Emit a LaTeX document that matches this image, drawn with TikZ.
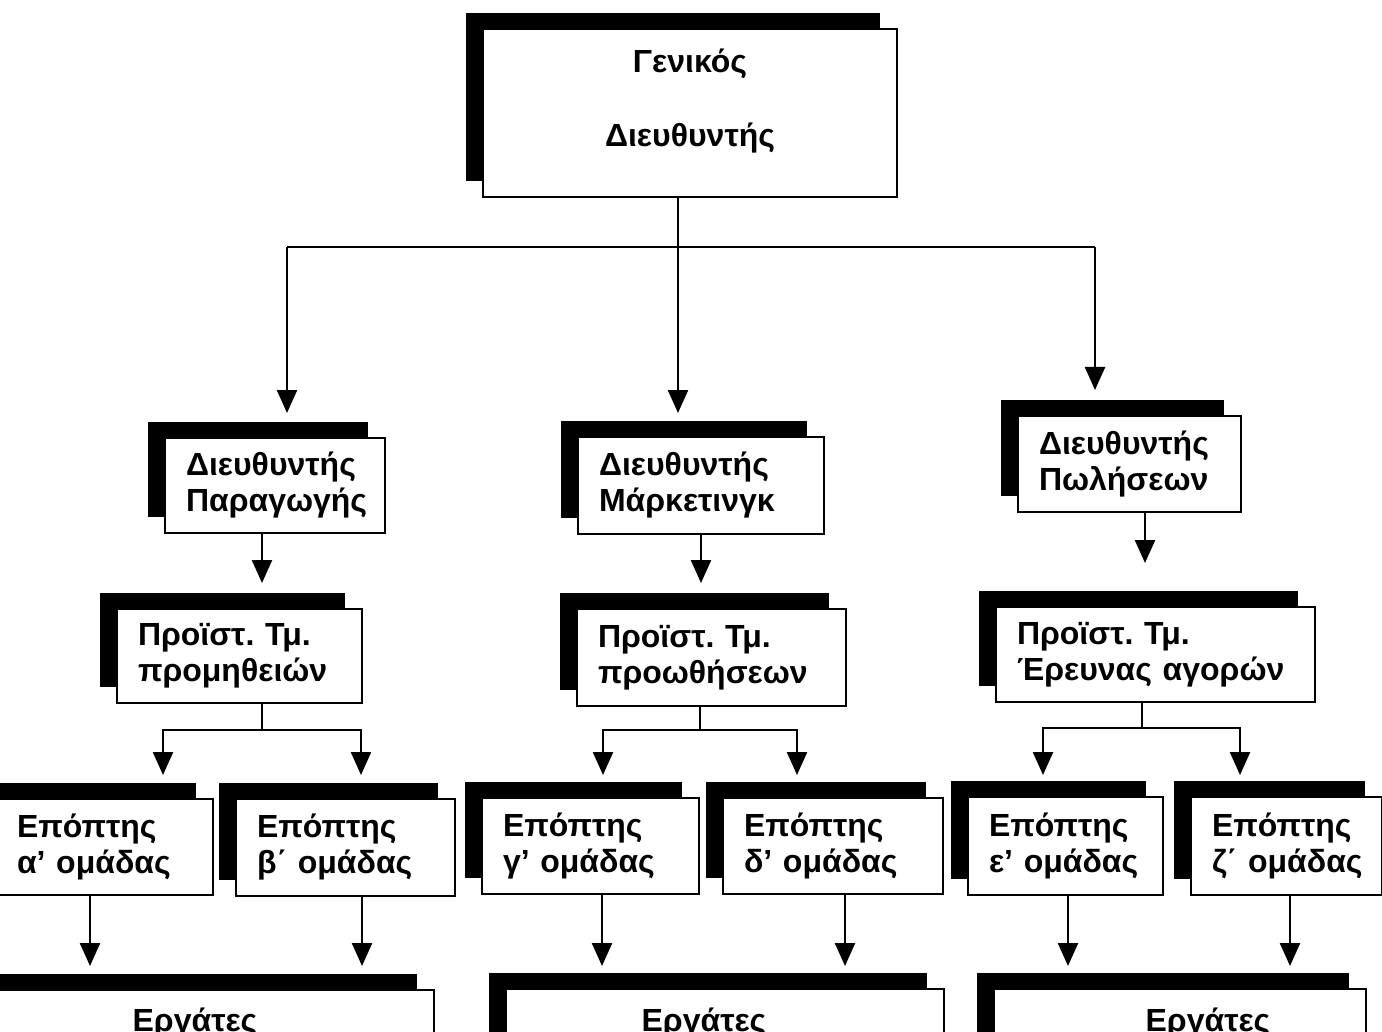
\documentclass[tikz,border=0pt]{standalone}
\usepackage{fontspec}
\setmainfont{Liberation Sans}
\usetikzlibrary{arrows.meta,shadows}

\begin{document}
\begin{tikzpicture}[x=1pt,y=-1pt,
    card/.style={draw,line width=2.4pt,fill=white,
      general shadow={fill=black,shadow xshift=-17pt,shadow yshift=16pt},
      inner xsep=21pt,inner ysep=0pt,align=left,
      font=\bfseries\fontsize{32}{36}\selectfont},
    word/.style={inner sep=0pt,font=\bfseries\fontsize{32}{36}\selectfont},
    arr/.style={line width=2.4pt,-{Triangle[width=20pt,length=23pt]}},
    ln/.style={line width=2.4pt}]
    \clip (0,0) rectangle (1382,1032);
    \fill[white] (0,0) rectangle (1382,1032);

    \node[card,align=center,minimum width=414pt,minimum height=168pt,text depth=31pt] (gm) at (690,113) {Γενικός\\[38pt]Διευθυντής};

    \node[card,text width=178pt,minimum height=95pt] (dp) at (275,485.5) {Διευθυντής\\Παραγωγής};
    \node[card,text width=204pt,minimum height=97pt] (dm) at (701,485.5) {Διευθυντής\\Μάρκετινγκ};
    \node[card,text width=181pt,minimum height=96pt] (ds) at (1129.5,464) {Διευθυντής\\Πωλήσεων};

    \node[card,text width=203pt,minimum height=94pt] (pp) at (239.5,656) {Προϊστ.~Τμ.\\προμηθειών};
    \node[card,text width=227pt,minimum height=97pt] (pm) at (711.5,657.5) {Προϊστ.~Τμ.\\προωθήσεων};
    \node[card,text width=277pt,minimum height=95pt] (ps) at (1155.5,654.5) {Προϊστ.~Τμ.\\Έρευνας~αγορών};

    \node[card,text width=175pt,minimum height=96pt] (ea) at (104.5,847) {Επόπτης\\α’~ομάδας};
    \node[card,text width=177pt,minimum height=97pt] (eb) at (345.5,847.5) {Επόπτης\\β΄~ομάδας};
    \node[card,text width=175pt,minimum height=96pt] (eg) at (590.5,846) {Επόπτης\\γ’~ομάδας};
    \node[card,text width=178pt,minimum height=96pt] (ed) at (833,846) {Επόπτης\\δ’~ομάδας};
    \node[card,text width=153pt,minimum height=98pt] (ee) at (1065.5,846) {Επόπτης\\ε’~ομάδας};
    \node[card,text width=149pt,minimum height=98pt] (ez) at (1286.5,846) {Επόπτης\\ζ΄~ομάδας};

    \node[card,anchor=north west,minimum width=453pt,minimum height=100pt] (wa) at (-20,989) {};
    \node[card,anchor=north west,minimum width=438pt,minimum height=100pt] (wm) at (505,988) {};
    \node[card,anchor=north west,minimum width=372pt,minimum height=100pt] (ws) at (993,988) {};
    \node[word,anchor=base] (wta) at (195,1031) {Εργάτες};
    \node[word,anchor=base] (wtm) at (704,1031) {Εργάτες};
    \node[word,anchor=base] (wts) at (1208,1031) {Εργάτες};

    % top level
    \coordinate (h0) at (678,247);
    \coordinate (t1) at (287,413);
    \coordinate (t2) at (678,413);
    \coordinate (t3) at (1095,390);
    \draw[arr] (gm.south -| t2) -- (t2);
    \draw[ln] (h0 -| t1) -- (h0 -| t3);
    \draw[arr] (h0 -| t1) -- (t1);
    \draw[arr] (h0 -| t3) -- (t3);

    % directors to heads
    \coordinate (t4) at (262,583);
    \coordinate (t5) at (701,583);
    \coordinate (t6) at (1145,563);
    \draw[arr] (dp.south -| t4) -- (t4);
    \draw[arr] (dm.south -| t5) -- (t5);
    \draw[arr] (ds.south -| t6) -- (t6);

    % heads to supervisors
    \coordinate (j1) at (262,730);
    \coordinate (j2) at (700,730);
    \coordinate (j3) at (1142,728);
    \coordinate (a1) at (163,775);
    \coordinate (a2) at (361,775);
    \coordinate (a3) at (603,775);
    \coordinate (a4) at (797,775);
    \coordinate (a5) at (1043,775);
    \coordinate (a6) at (1240,775);
    \draw[ln] (pp.south -| j1) -- (j1);
    \draw[ln] (pm.south -| j2) -- (j2);
    \draw[ln] (ps.south -| j3) -- (j3);
    \draw[arr] (j1) -| (a1);
    \draw[arr] (j1) -| (a2);
    \draw[arr] (j2) -| (a3);
    \draw[arr] (j2) -| (a4);
    \draw[arr] (j3) -| (a5);
    \draw[arr] (j3) -| (a6);

    % supervisors to workers
    \coordinate (b1) at (90,966);
    \coordinate (b2) at (362,966);
    \coordinate (b3) at (602,966);
    \coordinate (b4) at (845,966);
    \coordinate (b5) at (1068,966);
    \coordinate (b6) at (1290,966);
    \draw[arr] (ea.south -| b1) -- (b1);
    \draw[arr] (eb.south -| b2) -- (b2);
    \draw[arr] (eg.south -| b3) -- (b3);
    \draw[arr] (ed.south -| b4) -- (b4);
    \draw[arr] (ee.south -| b5) -- (b5);
    \draw[arr] (ez.south -| b6) -- (b6);
\end{tikzpicture}
\end{document}
